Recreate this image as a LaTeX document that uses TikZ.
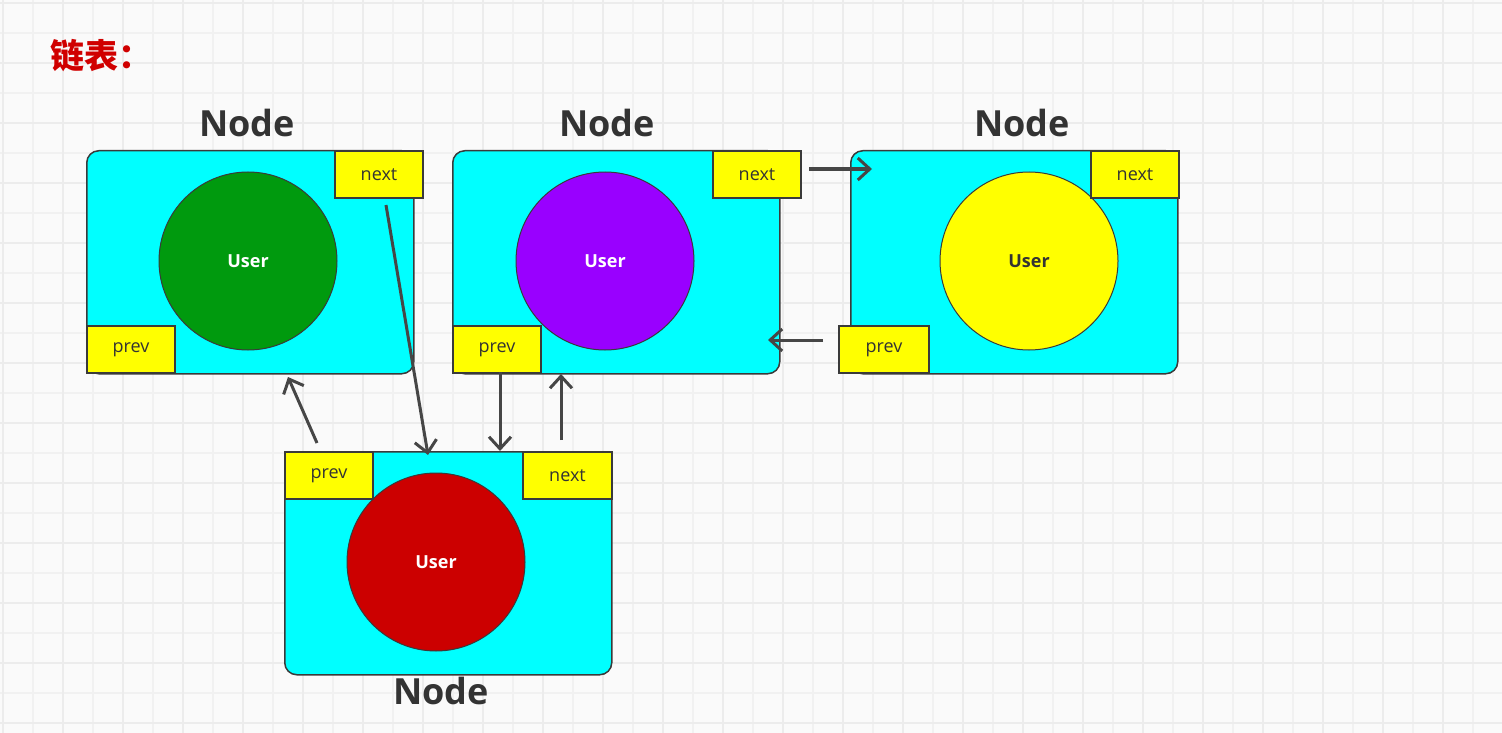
\documentclass[tikz,border=0pt]{standalone}
\usepackage{fontspec}
\setmainfont{Open Sans}
\newfontfamily\cjk{Noto Sans CJK SC}
\usetikzlibrary{arrows.meta}
\definecolor{bg}{HTML}{FAFAFA}
\definecolor{gridminor}{HTML}{F1F1F1}
\definecolor{gridmajor}{HTML}{ECECEC}
\definecolor{boxcyan}{HTML}{00FFFF}
\definecolor{boxyellow}{HTML}{FFFF00}
\definecolor{edge}{HTML}{3A3A3A}
\definecolor{arrowgray}{HTML}{464646}
\definecolor{txt}{HTML}{333333}
\definecolor{titlered}{HTML}{D00000}
\definecolor{ugreen}{HTML}{009A0E}
\definecolor{upurple}{HTML}{9900FF}
\definecolor{uyellow}{HTML}{FFFF00}
\definecolor{ured}{HTML}{CC0000}
\tikzset{
  cyanbox/.style={draw=edge, line width=1.5pt, fill=boxcyan, rounded corners=12pt,
    minimum width=327pt, minimum height=223pt, anchor=north west, inner sep=0pt},
  ptrbox/.style={draw=edge, line width=2pt, fill=boxyellow, minimum width=88pt,
    minimum height=47pt, anchor=north west, inner sep=0pt, text=txt,
    font=\fontsize{18}{20}\selectfont},
  usercircle/.style={circle, draw=edge, line width=1pt, minimum size=178pt, inner sep=0pt,
    font=\bfseries\fontsize{18}{20}\selectfont},
  nodelabel/.style={text=txt, font=\bfseries\fontsize{36}{40}\selectfont, inner sep=0pt},
  link/.style={draw=arrowgray, line width=3pt,
    -{Straight Barb[length=12pt, width=22pt, line width=3pt]}},
}
\begin{document}
\begin{tikzpicture}[x=1pt, y=-1pt]
\useasboundingbox (0,0) rectangle (1502,733);
\fill[bg] (0,0) rectangle (1502,733);
% grid
\foreach \k in {0,...,50} {
  \draw[gridminor, line width=1.2pt] ({3+30*\k},0) -- ({3+30*\k},733);
}
\foreach \k in {0,...,24} {
  \draw[gridminor, line width=1.2pt] (0,{3+30*\k}) -- (1502,{3+30*\k});
}
\foreach \k in {0,...,25} {
  \draw[gridmajor, line width=1.8pt] ({3+60*\k},0) -- ({3+60*\k},733);
}
\foreach \k in {0,...,12} {
  \draw[gridmajor, line width=1.8pt] (0,{3+60*\k}) -- (1502,{3+60*\k});
}

% title
\node[anchor=west, inner sep=0pt, text=titlered, font=\cjk\bfseries\fontsize{34}{38}\selectfont] (title) at (50,56) {链表：};

% node boxes
\node[cyanbox] (b1) at (86,150) {};
\node[cyanbox] (b2) at (452,150) {};
\node[cyanbox] (b3) at (850,150) {};
\node[cyanbox] (b4) at (284,451) {};

% user circles
\node[usercircle, fill=ugreen, text=white] (u1) at (248,261) {User};
\node[usercircle, fill=upurple, text=white] (u2) at (605,261) {User};
\node[usercircle, fill=uyellow, text=txt] (u3) at (1029,261) {User};
\node[usercircle, fill=ured, text=white] (u4) at (436,562) {User};

% pointer boxes
\node[ptrbox] (n1) at (334,150) {next};
\node[ptrbox] (p1) at (86,325) {prev};
\node[ptrbox] (n2) at (712,150) {next};
\node[ptrbox] (p2) at (452,325) {prev};
\node[ptrbox] (n3) at (1090,150) {next};
\node[ptrbox, minimum width=90pt] (p3) at (838,325) {prev};
\node[ptrbox] (p4) at (284,451) {prev};
\node[ptrbox, minimum width=89pt] (n4) at (522,451) {next};

% labels
\node[nodelabel] (l1) at (247,123) {Node};
\node[nodelabel] (l2) at (607,123) {Node};
\node[nodelabel] (l3) at (1022,123) {Node};
\node[nodelabel] (l4) at (441,691) {Node};

% connector end points
\coordinate (a1s) at (386,205);
\coordinate (a1e) at (428,455);
\coordinate (a2s) at (500,372);
\coordinate (a2e) at (500,451);
\coordinate (a3s) at (561,440);
\coordinate (a3e) at (561,374);
\coordinate (a4s) at (317,443);
\coordinate (a4e) at (288,377);
\coordinate (a5s) at (809,169);
\coordinate (a5e) at (872,169);
\coordinate (a6s) at (823,340);
\coordinate (a6e) at (768,340);

\draw[link] (a1s) -- (a1e);
\draw[link] (a2s) -- (a2e);
\draw[link] (a3s) -- (a3e);
\draw[link] (a4s) -- (a4e);
\draw[link] (a5s) -- (a5e);
\draw[link] (a6s) -- (a6e);
\end{tikzpicture}
\end{document}
